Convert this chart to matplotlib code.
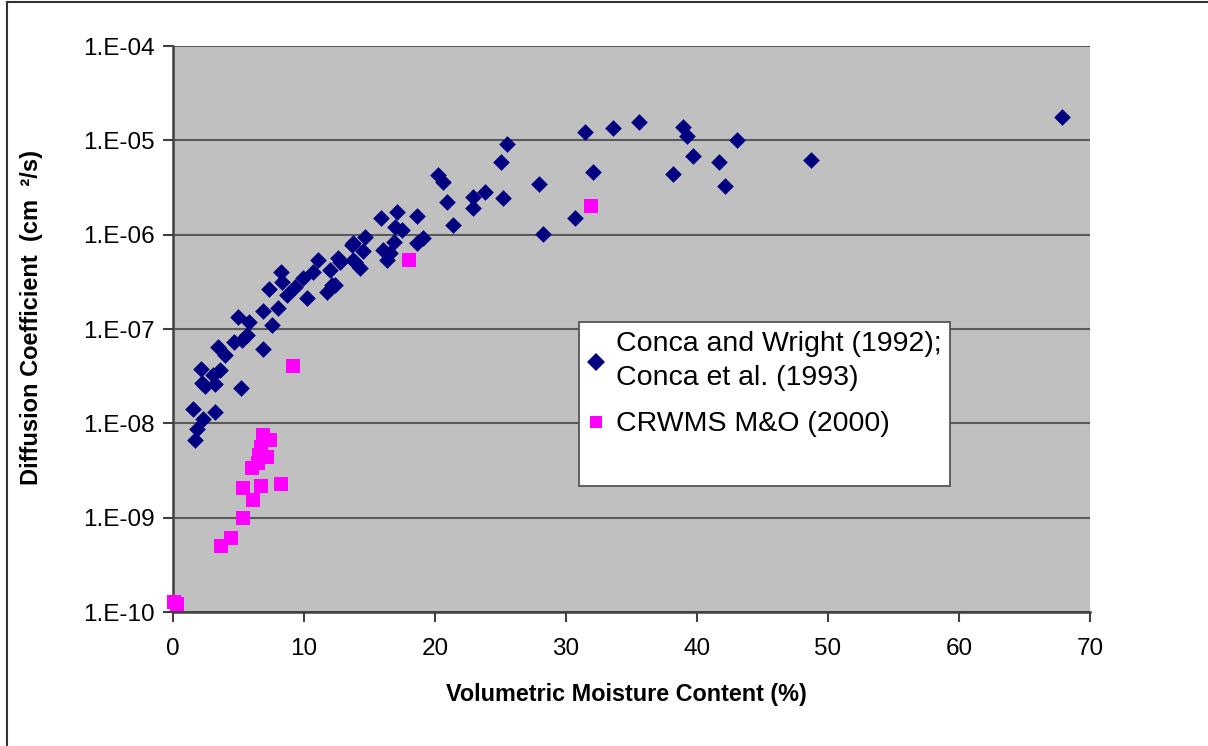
import matplotlib.pyplot as plt
from matplotlib.lines import Line2D
from matplotlib.ticker import FixedLocator, NullLocator

# Conca and Wright (1992); Conca et al. (1993)
conca_moisture = [
    1.50, 1.68, 1.81, 2.27, 3.21, 2.14, 3.05, 3.59, 2.19, 2.44, 3.24, 5.17,
    3.41, 3.97, 4.62, 5.24, 5.63, 5.80, 4.98, 6.85, 6.89, 7.53, 8.04, 7.35,
    8.24, 8.30, 8.68, 9.31, 9.95, 10.21, 10.71, 11.09, 11.73, 12.11, 11.98,
    12.62, 13.76, 13.64, 12.75, 12.37, 13.89, 14.27, 14.50, 14.66, 13.72,
    15.85, 17.08, 18.60, 19.08, 18.65, 16.95, 17.46, 16.87, 16.03, 16.56,
    16.31, 20.89, 21.35, 20.25, 20.59, 22.88, 22.88, 23.82, 25.17, 25.02,
    25.47, 27.94, 28.22, 30.69, 31.45, 32.04, 33.56, 35.57, 38.91, 39.21,
    39.67, 38.15, 41.68, 42.14, 43.03, 48.68, 67.86,
]
conca_diffusion = [
    1.41e-8, 6.65e-9, 8.64e-9, 1.10e-8, 1.33e-8, 3.77e-8, 3.25e-8, 3.72e-8,
    2.67e-8, 2.49e-8, 2.64e-8, 2.39e-8, 6.52e-8, 5.30e-8, 7.28e-8, 7.64e-8,
    8.63e-8, 1.19e-7, 1.35e-7, 6.10e-8, 1.55e-7, 1.09e-7, 1.66e-7, 2.64e-7,
    3.99e-7, 3.17e-7, 2.29e-7, 2.81e-7, 3.45e-7, 2.13e-7, 4.05e-7, 5.38e-7,
    2.48e-7, 2.92e-7, 4.22e-7, 5.61e-7, 5.38e-7, 7.77e-7, 5.17e-7, 2.92e-7,
    5.13e-7, 4.43e-7, 6.79e-7, 9.44e-7, 8.09e-7, 1.50e-6, 1.75e-6, 1.59e-6,
    9.15e-7, 8.22e-7, 1.21e-6, 1.12e-6, 8.42e-7, 6.88e-7, 6.34e-7, 5.38e-7,
    2.24e-6, 1.26e-6, 4.29e-6, 3.64e-6, 2.48e-6, 1.90e-6, 2.85e-6, 2.46e-6,
    5.93e-6, 9.25e-6, 3.44e-6, 1.02e-6, 1.51e-6, 1.23e-5, 4.65e-6, 1.36e-5,
    1.57e-5, 1.37e-5, 1.12e-5, 6.87e-6, 4.40e-6, 5.93e-6, 3.28e-6, 1.01e-5,
    6.18e-6, 1.78e-5,
]

# CRWMS M&O (2000)
crwms_moisture = [
    0.11, 0.34, 3.64, 4.40, 5.32, 6.08, 5.37, 6.69, 8.22, 6.01, 6.51, 6.59,
    7.15, 6.69, 6.85, 7.40, 9.14, 18.02, 31.89,
]
crwms_diffusion = [
    1.28e-10, 1.22e-10, 5.04e-10, 6.12e-10, 1.0e-9, 1.54e-9, 2.08e-9, 2.18e-9,
    2.29e-9, 3.39e-9, 3.80e-9, 4.61e-9, 4.36e-9, 5.65e-9, 7.52e-9, 6.65e-9,
    4.05e-8, 5.38e-7, 2.03e-6,
]

y_ticks = [1e-10, 1e-9, 1e-8, 1e-7, 1e-6, 1e-5, 1e-4]
y_tick_labels = ['1.E-10', '1.E-09', '1.E-08', '1.E-07', '1.E-06', '1.E-05', '1.E-04']
x_ticks = [0, 10, 20, 30, 40, 50, 60, 70]

plt.rcParams['font.family'] = ['Liberation Sans', 'DejaVu Sans']

fig = plt.figure(figsize=(12.08, 7.46), dpi=100)
ax = fig.add_axes([0.1432, 0.1796, 0.7591, 0.7587])
ax.set_facecolor('#c0c0c0')

ax.scatter(conca_moisture, conca_diffusion, marker='D', s=8.5 ** 2,
           color='#000080', linewidths=0, zorder=3, clip_on=False)
ax.scatter(crwms_moisture, crwms_diffusion, marker='s', s=9.6 ** 2,
           color='#ff00ff', linewidths=0, zorder=3, clip_on=False)

ax.set_yscale('log')
ax.set_xlim(0, 70)
ax.set_ylim(1e-10, 1e-4)
ax.yaxis.set_major_locator(FixedLocator(y_ticks))
ax.yaxis.set_minor_locator(NullLocator())
ax.set_yticks(y_ticks, y_tick_labels)
ax.set_xticks(x_ticks)
ax.tick_params(axis='both', direction='out', length=7, width=1.5,
               color='#404040', labelsize=17.5)
ax.tick_params(axis='y', pad=6)
ax.tick_params(axis='x', pad=12)

ax.grid(axis='y', color='#5a5a5a', linewidth=1.5)
ax.set_axisbelow(True)
for side in ['top', 'right']:
    ax.spines[side].set_visible(False)
for side in ['left', 'bottom']:
    ax.spines[side].set_color('#404040')
    ax.spines[side].set_linewidth(1.8)

ax.set_xlabel('Volumetric Moisture Content (%)', fontsize=16.8,
              fontweight='bold')
ax.xaxis.set_label_coords(0.494, -0.125)
ax.set_ylabel('Diffusion Coefficient  (cm  \u00b2/s)', fontsize=17,
              fontweight='bold')
ax.yaxis.set_label_coords(-0.142, 0.521)

handles = [
    Line2D([], [], marker='D', linestyle='none', color='#000080', markersize=9,
           markeredgewidth=0),
    Line2D([], [], marker='s', linestyle='none', color='#ff00ff', markersize=8.9,
           markeredgewidth=0),
    Line2D([], [], linestyle='none'),
]
labels = ['Conca and Wright (1992);\nConca et al. (1993)', 'CRWMS M&O (2000)', ' ']
leg = ax.legend(handles, labels, loc='upper left',
                bbox_to_anchor=((579 - 173) / 917, (612 - 322) / 566),
                fontsize=20.5, frameon=True, fancybox=False, borderpad=0.3,
                handlelength=0.6, handleheight=0.4, handletextpad=0.4,
                labelspacing=0.72, borderaxespad=0)
for t in leg.get_texts():
    t.set_linespacing(1.4)
leg.get_texts()[2].set_fontsize(9)
leg.get_frame().set_edgecolor('#555555')
leg.get_frame().set_linewidth(1.3)
leg.get_frame().set_facecolor('white')
leg.get_frame().set_alpha(1)

# outer chart frame
fig.add_artist(Line2D([7 / 1208, 7 / 1208], [0, 1 - 2 / 746],
                      color='#333333', linewidth=1.5))
fig.add_artist(Line2D([7 / 1208, 1], [1 - 2 / 746, 1 - 2 / 746],
                      color='#333333', linewidth=1.5))

fig.savefig('out.png', dpi=100)
